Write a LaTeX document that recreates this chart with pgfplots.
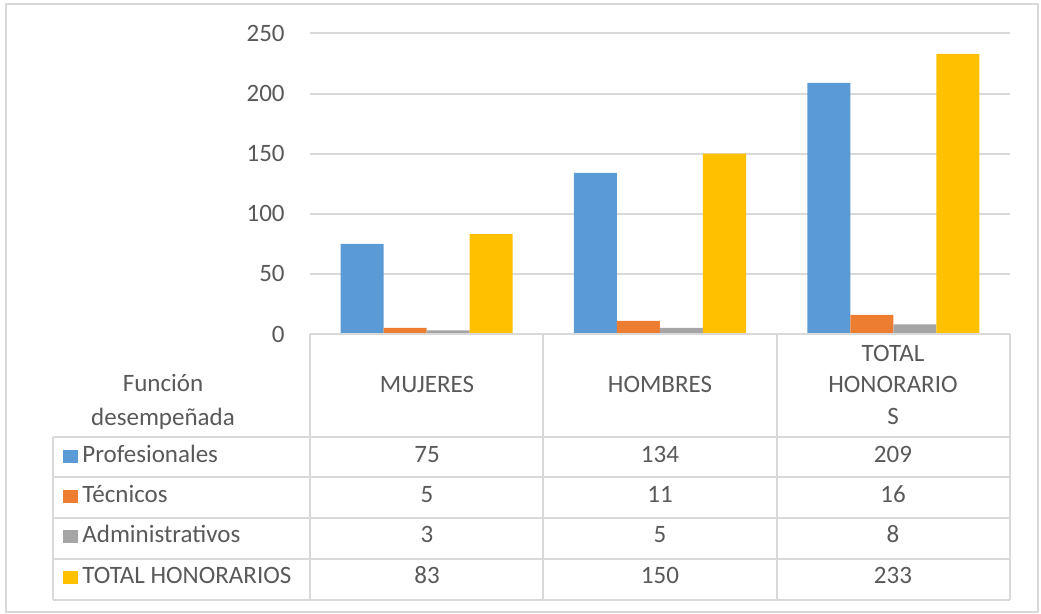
\documentclass[border=0pt]{standalone}
\usepackage{pgfplots}
\pgfplotsset{compat=1.18}
\usepackage{fontspec}
\setmainfont{Carlito}
\definecolor{cblue}{HTML}{5B9BD5}
\definecolor{corange}{HTML}{ED7D31}
\definecolor{cgray}{HTML}{A5A5A5}
\definecolor{cyellow}{HTML}{FFC000}
\definecolor{cgrid}{HTML}{D9D9D9}
\definecolor{ctext}{HTML}{595959}
\newcommand\ff{\fontsize{12.5}{15}\selectfont}
\begin{document}
\begin{tikzpicture}[font=\ff, text=ctext]
\begin{axis}[at={(155pt,-167pt)}, anchor=south west, scale only axis,
  width=350pt, height=150.25pt, xmin=0, xmax=3, ymin=0, ymax=250,
  ytick={0,50,...,250}, xtick=\empty, ymajorgrids,
  grid style={cgrid, line width=1pt}, axis line style={draw=none},
  major tick length=0pt, ybar=0pt, bar width=21.5pt,
  yticklabel style={anchor=east, inner sep=0pt, xshift=-12.5pt, text=ctext, font=\ff},
  /pgf/number format/assume math mode=true, clip=false]
\addplot[fill=cblue, draw=none] coordinates {(0.5,75) (1.5,134) (2.5,209)};
\addplot[fill=corange, draw=none] coordinates {(0.5,5) (1.5,11) (2.5,16)};
\addplot[fill=cgray, draw=none] coordinates {(0.5,3) (1.5,5) (2.5,8)};
\addplot[fill=cyellow, draw=none] coordinates {(0.5,83) (1.5,150) (2.5,233)};
\end{axis}
\begin{scope}[x=0.5pt, y=-0.5pt]
\useasboundingbox (0,0) rectangle (1041,614);
\draw[cgrid, line width=1pt] (5.5,4) rectangle (1037.5,612);
\draw[cgrid, line width=1pt] (310,334) -- (1010,334);
\foreach \x in {310,543,776.5,1010} \draw[cgrid, line width=1pt] (\x,334) -- (\x,600);
\foreach \y in {437,477,518,559,600} \draw[cgrid, line width=1pt] (53,\y) -- (1010,\y);
\draw[cgrid, line width=1pt] (53,437) -- (53,600);
\node[anchor=base] at (163,392) {Función};
\node[anchor=base] at (163,426) {desempeñada};
\node[anchor=base] at (427,393) {MUJERES};
\node[anchor=base] at (660,393) {HOMBRES};
\node[anchor=base] at (893,362) {TOTAL};
\node[anchor=base] at (893,393) {HONORARIO};
\node[anchor=base] at (893,425) {S};
\fill[cblue] (63,450) rectangle (78,463);
\fill[corange] (63,490) rectangle (78,503);
\fill[cgray] (63,530) rectangle (78,543);
\fill[cyellow] (63,571) rectangle (78,584);
\node[anchor=base west, inner sep=0pt] at (82,463) {Profesionales};
\node[anchor=base west, inner sep=0pt] at (82,503) {Técnicos};
\node[anchor=base west, inner sep=0pt] at (82,543) {Administrativos};
\node[anchor=base west, inner sep=0pt] at (82,584) {TOTAL HONORARIOS};
\node[anchor=base] at (427,463) {75};
\node[anchor=base] at (660,463) {134};
\node[anchor=base] at (893,463) {209};
\node[anchor=base] at (427,503) {5};
\node[anchor=base] at (660,503) {11};
\node[anchor=base] at (893,503) {16};
\node[anchor=base] at (427,543) {3};
\node[anchor=base] at (660,543) {5};
\node[anchor=base] at (893,543) {8};
\node[anchor=base] at (427,584) {83};
\node[anchor=base] at (660,584) {150};
\node[anchor=base] at (893,584) {233};
\end{scope}
\end{tikzpicture}
\end{document}
